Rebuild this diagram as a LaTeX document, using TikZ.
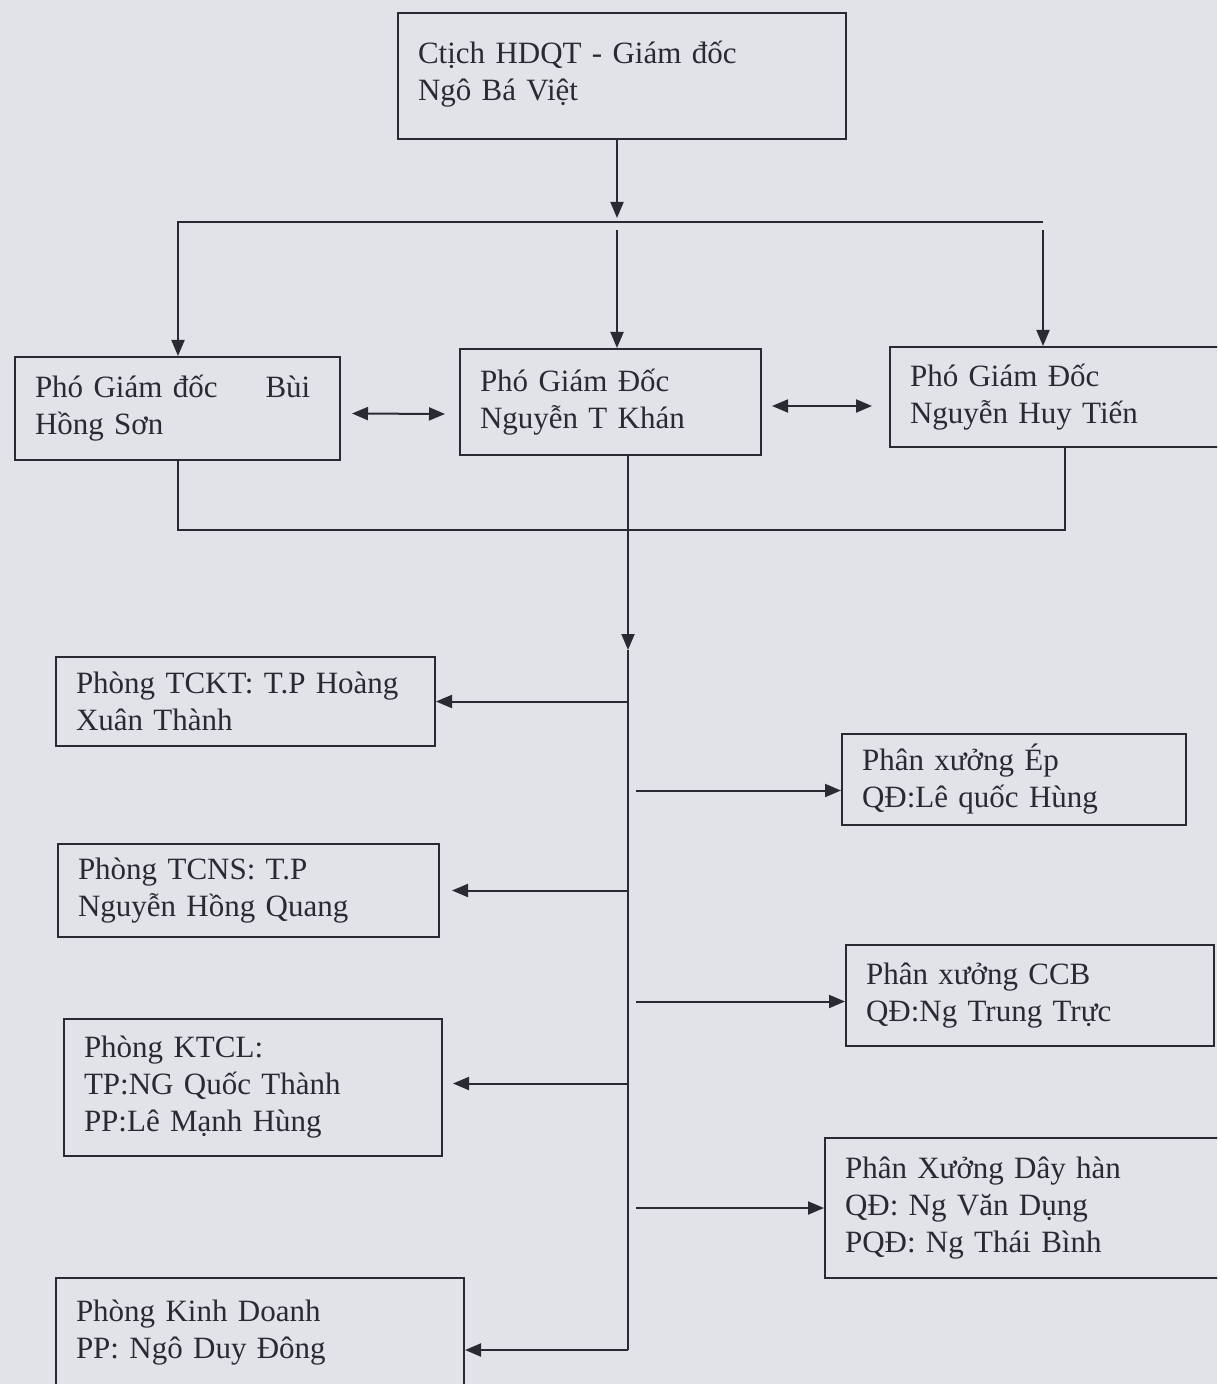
\documentclass[tikz,border=0pt]{standalone}
\usepackage{fontspec}
\setmainfont{Liberation Serif}
\usetikzlibrary{positioning, arrows.meta, calc}
\definecolor{paper}{HTML}{E2E3E8}
\definecolor{ink}{HTML}{2A2A33}
\definecolor{textmain}{HTML}{2A2A33}

\begin{document}
\begin{tikzpicture}[
    x=0.5pt, y=-0.5pt,
    unit/.style={rectangle, draw=ink, line width=1pt, text=textmain, anchor=north west,
                 align=left, inner xsep=10pt, inner ysep=3pt,
                 font=\fontsize{15.5}{18.5}\selectfont},
    link/.style={draw=ink, line width=1pt},
    flow/.style={link, -{Triangle[length=8pt, width=6.5pt]}},
    both/.style={link, {Triangle[length=8pt, width=6.5pt]}-{Triangle[length=8pt, width=6.5pt]}}
  ]
    \useasboundingbox (0,0) rectangle (1217,1384);
    \clip (0,0) rectangle (1217,1384);
    \fill[paper] (0,0) rectangle (1217,1384);

    % ban giam doc
    \node[unit, text width=204pt, minimum height=63pt, text depth=24pt] (gd) at (397,12) {Ctịch HDQT - Giám đốc\\Ngô Bá Việt};
    \node[unit, text width=142.5pt, minimum height=51.5pt] (pgd1) at (14,356) {Phó Giám đốc\hspace{24pt}Bùi\\Hồng Sơn};
    \node[unit, text width=130.5pt, minimum height=53pt] (pgd2) at (459,348) {Phó Giám Đốc\\Nguyễn T Khán};
    \node[unit, text width=155pt, minimum height=50pt] (pgd3) at (889,346) {Phó Giám Đốc\\Nguyễn Huy Tiến};

    % phong ban
    \node[unit, text width=169.5pt, minimum height=44.5pt] (tckt) at (55,656) {Phòng TCKT: T.P Hoàng\\Xuân Thành};
    \node[unit, text width=170.5pt, minimum height=46.5pt] (tcns) at (57,843) {Phòng TCNS: T.P\\Nguyễn Hồng Quang};
    \node[unit, text width=169pt, minimum height=68.5pt] (ktcl) at (63,1018) {Phòng KTCL:\\TP:NG Quốc Thành\\PP:Lê Mạnh Hùng};
    \node[unit, text width=184pt, minimum height=70pt] (kd) at (55,1277) {Phòng Kinh Doanh\\PP: Ngô Duy Đông\\\mbox{}};

    % phan xuong
    \node[unit, text width=152pt, minimum height=45.5pt] (ep) at (841,733) {Phân xưởng Ép\\QĐ:Lê quốc Hùng};
    \node[unit, text width=164pt, minimum height=50.5pt] (ccb) at (845,944) {Phân xưởng CCB\\QĐ:Ng Trung Trực};
    \node[unit, text width=183pt, minimum height=70pt] (dh) at (824,1137) {Phân Xưởng Dây hàn\\QĐ: Ng Văn Dụng\\PQĐ: Ng Thái Bình};

    \coordinate (busL) at (178,222);
    \coordinate (busM) at (617,222);
    \coordinate (busR) at (1043,222);
    \coordinate (low) at (628,530);
    \coordinate (hub) at (628,650);
    \coordinate (foot) at (628,1350);

    \draw[flow] (gd.south -| busM) -- ([yshift=2pt]busM);
    \draw[flow] (busR) -- (busL) -- (busL |- pgd1.north);
    \draw[flow] ([yshift=-4pt]busM) -- (busM |- pgd2.north);
    \draw[flow] ([yshift=-4pt]busR) -- (busR |- pgd3.north);
    \draw[both] ($(pgd1.east)+(11,5)$) -- ($(pgd2.west)+(-14,12)$);
    \draw[both] ($(pgd2.east)+(10,4)$) -- ($(pgd3.west)+(-17,9)$);

    \draw[link] (pgd1.south) |- (low) -| (pgd3.south);
    \draw[flow] (pgd2.south -| low) -- (hub);
    \draw[link] (hub) -- (foot);

    \draw[flow] (tckt.east -| hub) -- (tckt.east);
    \draw[flow, shorten >=6pt] (tcns.east -| hub) -- (tcns.east);
    \draw[flow, shorten >=5pt] ($(ktcl.east -| hub)+(0,-4)$) -- ($(ktcl.east)+(0,-4)$);
    \draw[flow] (foot) -- (foot -| kd.east);

    \draw[flow, shorten <=4pt] ($(ep.west -| hub)+(0,11)$) -- ($(ep.west)+(0,11)$);
    \draw[flow, shorten <=4pt] ($(ccb.west -| hub)+(0,6)$) -- ($(ccb.west)+(0,6)$);
    \draw[flow, shorten <=4pt] (dh.west -| hub) -- (dh.west);
  \end{tikzpicture}
\end{document}
